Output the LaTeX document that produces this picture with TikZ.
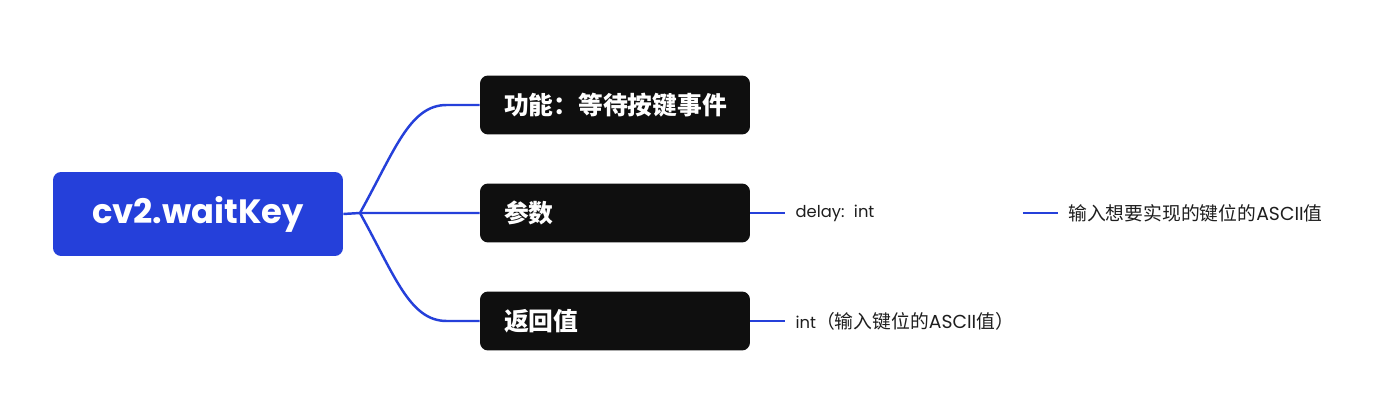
\documentclass[tikz,border=0pt]{standalone}
\usepackage{fontspec}
\setmainfont{Noto Sans CJK SC}
\newfontfamily\latfont{Poppins}
\newcommand\latsmall{\latfont\fontsize{9.3}{11}\selectfont}
\definecolor{Royal}{RGB}{37, 64, 218}
\definecolor{Ink}{RGB}{15, 15, 15}
\definecolor{Graphite}{RGB}{30, 30, 30}
\usetikzlibrary{positioning}

\begin{document}
\begin{tikzpicture}[x=0.02cm, y=-0.02cm,
    every node/.style={inner sep=0pt},
    rootbox/.style={fill=Royal, text=white, rounded corners=0.16cm,
        minimum width=5.8cm, minimum height=1.68cm,
        font=\latfont\fontsize{19.2}{22}\selectfont\bfseries},
    topic/.style={fill=Ink, text=white, rounded corners=0.16cm,
        inner xsep=0.48cm, text width=4.44cm, minimum height=1.18cm, align=left,
        font=\fontsize{14.1}{16}\selectfont\bfseries},
    leaf/.style={text=Graphite, inner xsep=0.2cm, align=left,
        font=\fontsize{10.7}{12}\selectfont},
    link/.style={draw=Royal, line width=1.4pt}
]
% fond
\fill[white] (0,0) rectangle (1380,408);
% noeud central
\node[rootbox] (root) at (198,214) {cv2.waitKey};
\coordinate (j) at (360,213);
% branches
\node[topic] (t1) at (615,105) {功能：等待按键事件};
\node[topic] (t2) at (615,213) {参数};
\node[topic] (t3) at (615,321) {返回值};
\draw[link] (root.east) -- (j) -- (t2.west);
\draw[link] (j) .. controls +(35,-63) and +(-37,0) .. ([xshift=-0.66cm]t1.west) -- (t1.west);
\draw[link] (j) .. controls +(35,63) and +(-37,0) .. ([xshift=-0.66cm]t3.west) -- (t3.west);
% feuilles
\node[leaf, text width=4.34cm, right=0.7cm of t2] (d1) {{\latsmall delay: int}};
\node[leaf, right=0.7cm of d1] (d2) {输入想要实现的键位的{\latfont ASCII}值};
\node[leaf, right=0.7cm of t3] (r1) {{\latsmall int}（输入键位的{\latfont ASCII}值）};
\draw[link] (t2.east) -- (d1.west);
\draw[link] (d1.east) -- (d2.west);
\draw[link] (t3.east) -- (r1.west);
\end{tikzpicture}
\end{document}
